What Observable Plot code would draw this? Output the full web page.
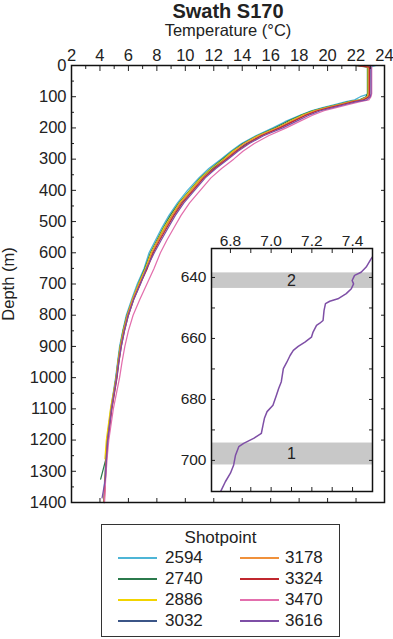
<!DOCTYPE html>
<html>
<head>
<meta charset="utf-8">
<script src="https://cdn.jsdelivr.net/npm/d3@7"></script>
<script src="https://cdn.jsdelivr.net/npm/@observablehq/plot@0.6"></script>
<style>
html, body { margin: 0; padding: 0; background: #fff; }
#wrap { position: relative; width: 393px; height: 639px; overflow: hidden;
  font-family: "Liberation Sans", Arial, Helvetica, sans-serif; color: #222; }
#title { position: absolute; left: 71px; width: 314px; top: 0px; text-align: center;
  font-weight: bold; font-size: 20px; line-height: 22px; }
#main { position: absolute; left: 0; top: 0; }
#inset { position: absolute; left: 170px; top: 225px; }
#legend { position: absolute; left: 101px; top: 524px; width: 239px; height: 113px;
  box-sizing: border-box; border: 1.5px solid #333; background: #fff; }
#legend .ttl { position: absolute; left: 0; right: 0; top: 4px; text-align: center;
  font-size: 17px; line-height: 18px; }
#legend .sw { position: absolute; width: 39px; height: 0; border-top: 2px solid; }
#legend .lb { position: absolute; font-size: 17px; line-height: 18px; height: 18px; }
</style>
</head>
<body>
<div id="wrap">
  <div id="main"></div>
  <div id="inset"></div>
  <div id="title"></div>
  <div id="legend"></div>
</div>
<script>
// ---------- data ----------
const chartTitle = "Swath S170";
const xLabel = "Temperature (°C)";
const yLabel = "Depth (m)";
const legendTitle = "Shotpoint";

const shotpoints = ["2594", "2740", "2886", "3032", "3178", "3324", "3470", "3616"];
const colors = ["#4db5d6", "#2b7a4c", "#f2d400", "#3b5587", "#f0913b", "#c0272e", "#e36fad", "#7e4fa6"];

// depth grid (m) shared by all profiles
const depths = [0, 5, 90, 100, 110, 116, 125, 135, 145, 160, 180, 200, 225, 250, 275, 300, 330, 360, 400, 440,
  480, 520, 560, 600, 650, 700, 750, 800, 850, 900, 950, 1000, 1100, 1200, 1260, 1325, 1385, 1400];

// temperature (°C) per shotpoint at each depth (null = profile ended)
const t2594 = [23.4, 23.0, 22.95, 22.3, 21.9, 21.3, 20.5, 19.65, 18.85, 18.05, 17.0, 16.15, 14.95, 13.95, 13.2, 12.5, 11.65, 10.95, 10.15, 9.45,
  8.85, 8.35, 7.9, 7.45, 7.1, 6.62, 6.22, 5.85, 5.6, 5.38, 5.24, 5.1, 4.76, 4.5, 4.41, 4.33, 4.27, 4.27];
const t2740 = [21.9, 22.8, 22.8, 22.7, 22.25, 21.5, 20.7, 19.8, 18.95, 18.1, 17.15, 16.3, 15.05, 14.05, 13.3, 12.6, 11.8, 11.05, 10.3, 9.55,
  8.95, 8.45, 8.0, 7.55, 7.15, 6.7, 6.28, 5.9, 5.62, 5.42, 5.26, 5.13, 4.78, 4.5, 4.42, 4.05, null, null];
const t2886 = [22.6, 22.85, 22.85, 22.8, 22.35, 21.6, 20.8, 19.9, 19.05, 18.2, 17.3, 16.45, 15.1, 14.15, 13.35, 12.7, 11.85, 11.1, 10.35, 9.6,
  9.05, 8.5, 8.05, 7.6, 7.2, 6.72, 6.28, 5.92, 5.64, 5.43, 5.27, 5.14, 4.74, 4.45, 4.35, null, null, null];
const t3032 = [22.9, 22.9, 22.9, 22.85, 22.45, 21.75, 20.95, 20.05, 19.2, 18.35, 17.45, 16.55, 15.25, 14.3, 13.5, 12.8, 11.95, 11.2, 10.45, 9.7,
  9.1, 8.6, 8.1, 7.68, 7.28, 6.78, 6.33, 5.95, 5.68, 5.46, 5.3, 5.16, 4.8, 4.53, 4.44, 4.36, 4.3, 4.29];
const t3178 = [22.2, 22.9, 22.9, 22.82, 22.4, 21.7, 20.9, 20.0, 19.15, 18.3, 17.4, 16.5, 15.2, 14.15, 13.45, 12.8, 12.05, 11.2, 10.45, 9.65,
  9.1, 8.6, 8.1, 7.65, 7.25, 6.76, 6.3, 5.94, 5.67, 5.45, 5.29, 5.15, 4.8, 4.53, 4.43, 4.35, 4.29, 4.28];
const t3324 = [22.0, 22.95, 22.95, 22.92, 22.55, 21.85, 21.05, 20.15, 19.3, 18.45, 17.55, 16.65, 15.35, 14.4, 13.6, 12.9, 12.05, 11.3, 10.55, 9.8,
  9.2, 8.7, 8.2, 7.75, 7.33, 6.83, 6.37, 6.0, 5.72, 5.5, 5.33, 5.2, 4.84, 4.56, 4.46, 4.38, 4.32, 4.31];
const t3470 = [23.1, 23.1, 23.1, 23.05, 22.9, 22.3, 21.5, 20.6, 19.75, 18.9, 18.0, 17.1, 15.85, 14.85, 14.05, 13.4, 12.55, 11.8, 11.05, 10.3,
  9.7, 9.2, 8.7, 8.25, 7.8, 7.3, 6.8, 6.33, 6.0, 5.75, 5.55, 5.38, 4.94, 4.62, 4.5, 4.4, 4.33, 4.32];
const t3616 = [23.0, 23.05, 23.05, 23.0, 22.75, 22.05, 21.25, 20.35, 19.5, 18.65, 17.75, 16.85, 15.5, 14.5, 13.7, 13.0, 12.15, 11.4, 10.65, 9.9,
  9.3, 8.8, 8.3, 7.82, 7.27, 6.85, 6.37, 6.0, 5.72, 5.5, 5.33, 5.18, 4.82, 4.55, 4.46, 4.38, 4.15, null];

// inset: detail of shotpoint 3616 between 630 and 710 m
const insetDepth = [630.0, 633.9, 636.6, 638.3, 639.3, 641.0, 642.1, 643.7, 645.3, 647.0, 647.8, 648.6, 650.8, 654.1, 655.0,
  655.7, 657.9, 659.6, 661.2, 662.6, 663.9, 665.6, 667.8, 669.9, 674.2, 676.4, 678.6, 681.9, 684.0, 686.2, 688.4, 691.1,
  692.8, 694.4, 695.5, 698.3, 701.5, 704.2, 707.0, 709.9, 711.0];
const insetTemp = [7.53, 7.491, 7.467, 7.442, 7.41, 7.398, 7.405, 7.394, 7.369, 7.328, 7.288, 7.267, 7.26, 7.255, 7.239,
  7.223, 7.206, 7.198, 7.166, 7.133, 7.109, 7.093, 7.077, 7.06, 7.05, 7.037, 7.026, 7.009, 6.98, 6.967, 6.96, 6.952,
  6.914, 6.865, 6.841, 6.825, 6.816, 6.8, 6.775, 6.754, 6.746];

// shaded layers in the inset
const bandLabel = ["2", "1"];
const bandTop = [638.5, 694.3];
const bandBottom = [643.6, 701.5];
const bandLabelTemp = [7.1, 7.1];

// ticks
const xTicks = [2, 4, 6, 8, 10, 12, 14, 16, 18, 20, 22, 24];
const xMinor = [3, 5, 7, 9, 11, 13, 15, 17, 19, 21, 23];
const yTicks = [0, 100, 200, 300, 400, 500, 600, 700, 800, 900, 1000, 1100, 1200, 1300, 1400];
const yMinor = [50, 150, 250, 350, 450, 550, 650, 750, 850, 950, 1050, 1150, 1250, 1350];
const insetXTicks = [6.8, 7.0, 7.2, 7.4];
const insetXMinor = [6.9, 7.1, 7.3];
const insetYTicks = [640, 660, 680, 700];
const insetYMinor = [650, 670, 690];

// ---------- build ----------
const seriesTemps = [t2594, t2740, t2886, t3032, t3178, t3324, t3470, t3616];
const rows = [];
shotpoints.forEach((s, k) => depths.forEach((d, i) => {
  const t = seriesTemps[k][i];
  if (t != null) rows.push({series: s, depth: d, temp: t});
}));
const insetRows = insetDepth.map((d, i) => ({depth: d, temp: insetTemp[i]}));
const bands = bandLabel.map((l, i) => ({label: l, top: bandTop[i], bottom: bandBottom[i], lt: bandLabelTemp[i]}));

const font = '"Liberation Sans", Arial, Helvetica, sans-serif';
const ink = "#222";

const main = Plot.plot({
  width: 393, height: 510,
  marginTop: 65, marginLeft: 71, marginRight: 9, marginBottom: 8,
  style: {fontFamily: font, fontSize: "16.5px", color: ink, background: "transparent"},
  x: {domain: [2, 24]},
  y: {domain: [0, 1400], reverse: true},
  color: {domain: shotpoints, range: colors},
  marks: [
    Plot.line(rows, {x: "temp", y: "depth", z: "series", stroke: "series", strokeWidth: 1.25}),
    Plot.axisX({anchor: "top", ticks: xTicks, tickSize: 0, tickPadding: 5, tickFormat: d3.format("d"),
      label: xLabel, labelAnchor: "center", labelOffset: 41, labelArrow: false}),
    Plot.axisX({anchor: "top", ticks: xTicks, tickSize: -5, fill: "none", label: null}),
    Plot.axisX({anchor: "top", ticks: xMinor, tickSize: -3, fill: "none", label: null}),
    Plot.axisX({anchor: "bottom", ticks: xTicks, tickSize: -4, fill: "none", label: null}),
    Plot.axisY({anchor: "left", ticks: yTicks, tickSize: 0, tickPadding: 5, tickFormat: d3.format("d"),
      label: yLabel, labelAnchor: "center", labelOffset: 69, labelArrow: false}),
    Plot.axisY({anchor: "left", ticks: yTicks, tickSize: -5, fill: "none", label: null}),
    Plot.axisY({anchor: "left", ticks: yMinor, tickSize: -3, fill: "none", label: null}),
    Plot.axisY({anchor: "right", ticks: yTicks, tickSize: -4, fill: "none", label: null}),
    Plot.frame({stroke: "#111", strokeWidth: 1.5})
  ]
});
document.getElementById("main").appendChild(main);

const inset = Plot.plot({
  width: 207, height: 271,
  marginTop: 23, marginLeft: 41, marginRight: 5, marginBottom: 5,
  style: {fontFamily: font, fontSize: "15.5px", color: ink, background: "transparent"},
  x: {domain: [6.707, 7.498]},
  y: {domain: [630.5, 710.2], reverse: true},
  marks: [
    Plot.frame({fill: "white", stroke: "none"}),
    Plot.rect(bands, {y1: "top", y2: "bottom", fill: "#c8c8c8"}),
    Plot.text(bands, {x: "lt", y: d => (d.top + d.bottom) / 2, text: "label", fontSize: 16, fill: ink}),
    Plot.line(insetRows, {x: "temp", y: "depth", stroke: colors[7], strokeWidth: 1.5, clip: true}),
    Plot.axisX({anchor: "top", ticks: insetXTicks, tickSize: 0, tickPadding: 3, tickFormat: d3.format(".1f"), label: null}),
    Plot.axisX({anchor: "top", ticks: insetXTicks.concat(insetXMinor), tickSize: -4, fill: "none", label: null}),
    Plot.axisX({anchor: "bottom", ticks: insetXTicks.concat(insetXMinor), tickSize: -4, fill: "none", label: null}),
    Plot.axisY({anchor: "left", ticks: insetYTicks, tickSize: 0, tickPadding: 5, tickFormat: d3.format("d"), label: null}),
    Plot.axisY({anchor: "left", ticks: insetYTicks.concat(insetYMinor), tickSize: -4, fill: "none", label: null}),
    Plot.axisY({anchor: "right", ticks: insetYTicks.concat(insetYMinor), tickSize: -4, fill: "none", label: null}),
    Plot.frame({stroke: "#111", strokeWidth: 1.5})
  ]
});
document.getElementById("inset").appendChild(inset);

document.getElementById("title").textContent = chartTitle;

// legend
const lg = document.getElementById("legend");
const lt = document.createElement("div");
lt.className = "ttl"; lt.textContent = legendTitle; lg.appendChild(lt);
shotpoints.forEach((s, i) => {
  const col = Math.floor(i / 4), row = i % 4;
  const cy = 33 + row * 21;
  const sw = document.createElement("div");
  sw.className = "sw";
  sw.style.left = (col ? 138 : 16) + "px";
  sw.style.top = (cy - 1) + "px";
  sw.style.borderTopColor = colors[i];
  lg.appendChild(sw);
  const lb = document.createElement("div");
  lb.className = "lb";
  lb.style.left = (col ? 183 : 63) + "px";
  lb.style.top = (cy - 9) + "px";
  lb.textContent = s;
  lg.appendChild(lb);
});
</script>
</body>
</html>
